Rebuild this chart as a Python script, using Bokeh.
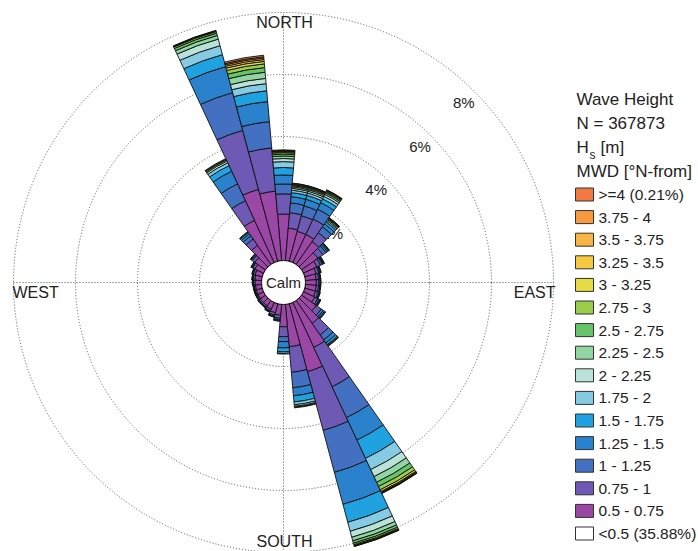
import math
from bokeh.plotting import figure
from bokeh.models import Range1d, ColumnDataSource
from bokeh.core.properties import value
from bokeh.embed import file_html
from bokeh.resources import INLINE

# ---------------- data ----------------
directions = list(range(0, 360, 10))   # bearing (deg, N-from), bin centres

class_labels = ["0.5 - 0.75", "0.75 - 1", "1 - 1.25", "1.25 - 1.5", "1.5 - 1.75",
                "1.75 - 2", "2 - 2.25", "2.25 - 2.5", "2.5 - 2.75", "2.75 - 3",
                "3 - 3.25", "3.25 - 3.5", "3.5 - 3.75", "3.75 - 4", ">=4 (0.21%)"]
calm_label = "<0.5 (35.88%)"
class_colors = ["#9A47A6", "#6E5AB4", "#4470C2", "#2A82CC", "#20A2E0",
                "#84CBE3", "#B9E3D9", "#93D4A3", "#66C46A", "#9ACD4A",
                "#E4DB45", "#F6C83F", "#F8B445", "#F89A3E", "#F47A43"]

# percentage of records per direction bin, per Hs class
hs_050_075 = [1.50, 1.05, 1.00, 1.00, 0.90, 0.65, 0.48, 0.38, 0.35, 0.35, 0.35, 0.36,
              0.40, 0.58, 0.90, 1.60, 2.27, 1.37, 0.72, 0.35, 0.30, 0.24, 0.21, 0.21,
              0.20, 0.20, 0.20, 0.21, 0.22, 0.24, 0.31, 0.42, 0.75, 1.50, 2.40, 2.25]
hs_075_100 = [0.65, 0.50, 0.52, 0.55, 0.35, 0.20, 0.13, 0.09, 0.08, 0.08, 0.08, 0.09,
              0.11, 0.20, 0.45, 1.40, 1.96, 0.83, 0.32, 0.10, 0.08, 0.06, 0.05, 0.05,
              0.04, 0.04, 0.04, 0.05, 0.06, 0.06, 0.08, 0.10, 0.25, 0.70, 1.97, 1.40]
hs_100_125 = [0.32, 0.32, 0.33, 0.35, 0.23, 0.11, 0.06, 0.04, 0.04, 0.04, 0.04, 0.04,
              0.05, 0.08, 0.20, 1.10, 1.40, 0.50, 0.16, 0.05, 0.04, 0.03, 0.02, 0.02,
              0.02, 0.02, 0.02, 0.02, 0.02, 0.03, 0.03, 0.04, 0.13, 0.60, 1.26, 0.85]
hs_125_150 = [0.29, 0.20, 0.22, 0.23, 0.12, 0.06, 0.03, 0.02, 0.02, 0.02, 0.02, 0.02,
              0.03, 0.05, 0.12, 0.80, 1.07, 0.26, 0.20, 0.03, 0.02, 0.01, 0.01, 0.01,
              0.01, 0.01, 0.01, 0.01, 0.01, 0.01, 0.02, 0.02, 0.08, 0.45, 0.87, 0.65]
hs_150_175 = [0.24, 0.13, 0.13, 0.14, 0.08, 0.04, 0.02, 0.01, 0.01, 0.01, 0.01, 0.01,
              0.02, 0.03, 0.07, 0.65, 0.60, 0.20, 0.13, 0.02, 0.01, 0.01, 0.01, 0.01,
              0.01, 0.01, 0.01, 0.01, 0.01, 0.01, 0.01, 0.02, 0.05, 0.20, 0.40, 0.35]
hs_175_200 = [0.19, 0.08, 0.08, 0.09, 0.05, 0.02, 0.01, 0.01, 0, 0, 0, 0,
              0.01, 0.01, 0.03, 0.40, 0.30, 0.09, 0.05, 0, 0, 0, 0, 0,
              0, 0, 0, 0, 0, 0, 0, 0, 0.02, 0.10, 0.30, 0.23]
hs_200_225 = [0.10, 0.06, 0.06, 0.07, 0.04, 0.01, 0.01, 0, 0, 0, 0, 0,
              0, 0, 0.02, 0.25, 0.20, 0.05, 0.02, 0, 0, 0, 0, 0,
              0, 0, 0, 0, 0, 0, 0, 0, 0.02, 0.06, 0.22, 0.17]
hs_225_250 = [0.08, 0.05, 0.05, 0.05, 0.03, 0.01, 0.01, 0, 0, 0, 0, 0,
              0, 0, 0.01, 0.20, 0.12, 0.03, 0, 0, 0, 0, 0, 0,
              0, 0, 0, 0, 0, 0, 0, 0, 0, 0.04, 0.12, 0.20]
hs_250_275 = [0.06, 0.04, 0.04, 0.04, 0.02, 0, 0, 0, 0, 0, 0, 0,
              0, 0, 0, 0.15, 0.08, 0.02, 0, 0, 0, 0, 0, 0,
              0, 0, 0, 0, 0, 0, 0, 0, 0, 0.03, 0.08, 0.15]
hs_275_300 = [0.05, 0.03, 0.03, 0.03, 0.01, 0, 0, 0, 0, 0, 0, 0,
              0, 0, 0, 0.12, 0.05, 0, 0, 0, 0, 0, 0, 0,
              0, 0, 0, 0, 0, 0, 0, 0, 0, 0.02, 0.05, 0.12]
hs_300_325 = [0.03, 0.02, 0.02, 0.02, 0.01, 0, 0, 0, 0, 0, 0, 0,
              0, 0, 0, 0.06, 0.03, 0, 0, 0, 0, 0, 0, 0,
              0, 0, 0, 0, 0, 0, 0, 0, 0, 0, 0.02, 0.08]
hs_325_350 = [0.02, 0.01, 0.01, 0.01, 0, 0, 0, 0, 0, 0, 0, 0,
              0, 0, 0, 0.03, 0.01, 0, 0, 0, 0, 0, 0, 0,
              0, 0, 0, 0, 0, 0, 0, 0, 0, 0, 0.01, 0.06]
hs_350_375 = [0.01, 0.01, 0.01, 0, 0, 0, 0, 0, 0, 0, 0, 0,
              0, 0, 0, 0.02, 0.01, 0, 0, 0, 0, 0, 0, 0,
              0, 0, 0, 0, 0, 0, 0, 0, 0, 0, 0, 0.05]
hs_375_400 = [0.01, 0, 0, 0, 0, 0, 0, 0, 0, 0, 0, 0,
              0, 0, 0, 0.01, 0, 0, 0, 0, 0, 0, 0, 0,
              0, 0, 0, 0, 0, 0, 0, 0, 0, 0, 0, 0.04]
hs_400_up = [0.02, 0.01, 0.01, 0.01, 0.01, 0, 0, 0, 0, 0, 0, 0,
             0, 0, 0, 0.01, 0.01, 0, 0, 0, 0, 0, 0, 0,
             0, 0, 0, 0, 0, 0, 0, 0, 0, 0, 0.01, 0.05]

class_values = [hs_050_075, hs_075_100, hs_100_125, hs_125_150, hs_150_175,
                hs_175_200, hs_200_225, hs_225_250, hs_250_275, hs_275_300,
                hs_300_325, hs_325_350, hs_350_375, hs_375_400, hs_400_up]

ring_levels = [2, 4, 6, 8]
ring_labels = ["2%", "4%", "6%", "8%"]
header_lines = ["Wave Height", "N = 367873"]
mwd_line = "MWD [\u00b0N-from]"

# ---------------- layout ----------------
W, H = 698, 551
S = 31.0            # pixels per percent
PCX, PCY = 283, 282  # picture position of rose centre
R0 = 22 / S          # calm circle radius (data units)
FONT = value("Liberation Sans")

def X(px):
    return (px - PCX) / S

def Y(py):
    return (PCY - py) / S

p = figure(width=W, height=H, output_backend="svg", toolbar_location=None,
           x_range=Range1d(X(0), X(W)), y_range=Range1d(Y(H), Y(0)),
           x_axis_location=None, y_axis_location=None, min_border=0)
p.grid.visible = False
p.outline_line_color = None
p.background_fill_color = "white"
p.border_fill_color = "white"

RMAX = R0 + ring_levels[-1]
GRID = dict(line_color="#555555", line_dash="1 2", line_width=1)

# grid rings and cross-hair
p.arc(x=0, y=0, radius=[R0 + l for l in ring_levels], start_angle=0,
      end_angle=2 * math.pi, **GRID)
p.segment(x0=[-RMAX, 0], y0=[0, -RMAX], x1=[RMAX, 0], y1=[0, RMAX], **GRID)

# ring labels at 45 degrees (under the petals)
lab_r = [R0 + l - 15 / S for l in ring_levels]
p.text(x=[r * math.cos(math.pi / 4) for r in lab_r],
       y=[r * math.sin(math.pi / 4) for r in lab_r],
       text=ring_labels, text_font=FONT, text_font_size="15px",
       text_color="#222222", text_align="center", text_baseline="middle")

# petals
base = [0.0] * len(directions)
for k, vals in enumerate(class_values):
    inner, outer, start, end = [], [], [], []
    for i, b in enumerate(directions):
        v = vals[i]
        if v > 0:
            inner.append(R0 + base[i])
            outer.append(R0 + base[i] + v)
            start.append(math.radians(90 - (b + 5)))
            end.append(math.radians(90 - (b - 5)))
            base[i] += v
    src = ColumnDataSource(dict(inner=inner, outer=outer, start=start, end=end))
    p.annular_wedge(x=0, y=0, inner_radius="inner", outer_radius="outer",
                    start_angle="start", end_angle="end", source=src,
                    fill_color=class_colors[k], line_color="#111111",
                    line_width=0.9)

# calm circle
p.circle(x=[0], y=[0], radius=R0, fill_color="white", line_color="#111111",
         line_width=1)
p.text(x=[0], y=[0], text=["Calm"], text_font=FONT, text_font_size="15px",
       text_color="#222222", text_align="center", text_baseline="middle")

# compass labels
TXT = dict(text_font=FONT, text_font_size="16px", text_color="#222222",
           text_baseline="middle")
p.text(x=[X(284), X(284)], y=[Y(22), Y(541)], text=["NORTH", "SOUTH"],
       text_align="center", **TXT)
p.text(x=[X(12)], y=[Y(292)], text=["WEST"], text_align="left", **TXT)
p.text(x=[X(555)], y=[Y(292)], text=["EAST"], text_align="right", **TXT)

# legend header
HX = 576
HDR = dict(text_font=FONT, text_font_size="17px", text_color="#222222",
           text_baseline="middle", text_align="left")
p.text(x=[X(HX), X(HX)], y=[Y(99), Y(123)], text=header_lines, **HDR)
p.text(x=[X(HX)], y=[Y(147)], text=["H"], **HDR)
p.text(x=[X(HX + 13)], y=[Y(154)], text=["s"], text_font=FONT,
       text_font_size="12px", text_color="#222222", text_baseline="middle")
p.text(x=[X(HX + 24)], y=[Y(147)], text=["[m]"], **HDR)
p.text(x=[X(HX)], y=[Y(171)], text=[mwd_line], **HDR)

# legend items (top: >=4 ... bottom: <0.5)
leg_labels = list(reversed(class_labels)) + [calm_label]
leg_colors = list(reversed(class_colors)) + ["white"]
LY0, LDY = 194, 22.6
ys = [Y(LY0 + LDY * i) for i in range(len(leg_labels))]
p.rect(x=[X(584)] * len(ys), y=ys, width=18, height=13, width_units="screen",
       height_units="screen", fill_color=leg_colors, line_color="#333333",
       line_width=1)
p.text(x=[X(598)] * len(ys), y=ys, text=leg_labels, text_font=FONT,
       text_font_size="15.5px", text_color="#222222", text_baseline="middle",
       text_align="left")

open("out.html", "w").write(file_html(p, INLINE))
